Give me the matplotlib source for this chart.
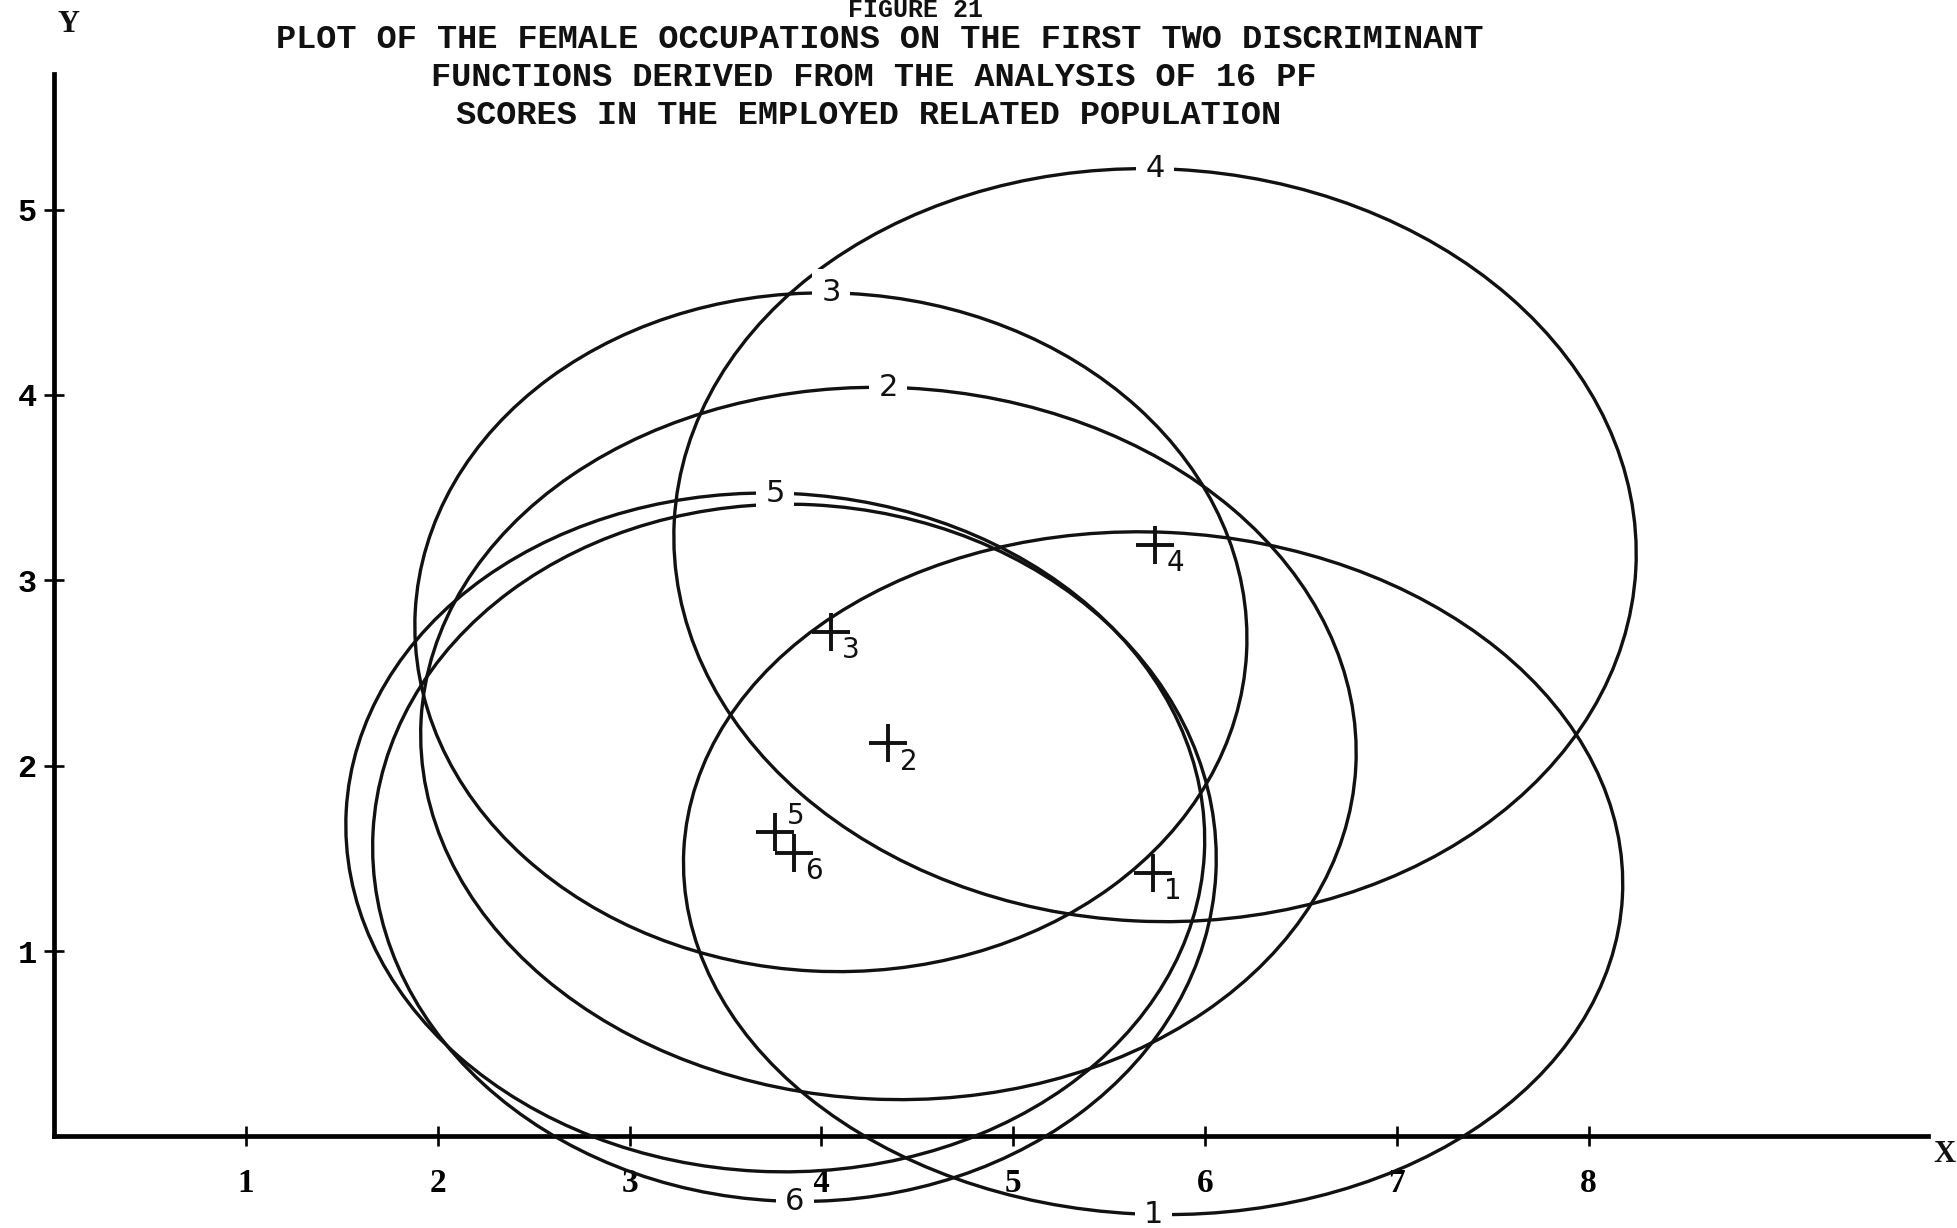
import matplotlib
matplotlib.use("Agg")
import matplotlib.pyplot as plt
from matplotlib.patches import Ellipse
import numpy as np

# Occupation groups: centroid on the two discriminant functions and
# the semi-axes of each group's dispersion ellipse.
groups = ["1", "2", "3", "4", "5", "6"]
centre_x = [5.73, 4.35, 4.05, 5.74, 3.76, 3.86]
centre_y = [1.42, 2.12, 2.72, 3.19, 1.64, 1.53]
semi_x = [2.45, 2.44, 2.17, 2.51, 2.24, 2.20]
semi_y = [1.84, 1.92, 1.83, 2.03, 1.83, 1.88]
tilt_deg = [-3, -3, -3, -3, -3, -3]
# where each ellipse carries its number: top or bottom of the curve
label_side = ["bottom", "top", "top", "top", "top", "bottom"]

x_ticks = [1, 2, 3, 4, 5, 6, 7, 8]
y_ticks = [1, 2, 3, 4, 5]

title_lines = [
    "FIGURE 21",
    "PLOT OF THE FEMALE OCCUPATIONS ON THE FIRST TWO DISCRIMINANT",
    "FUNCTIONS DERIVED FROM THE ANALYSIS OF 16 PF",
    "SCORES IN THE EMPLOYED RELATED POPULATION",
]

W, H = 1957, 1228
DPI = 100
fig = plt.figure(figsize=(W / DPI, H / DPI), dpi=DPI)
ax = fig.add_axes([0, 0, 1, 1])

# pixel geometry of the plotting frame
ox, oy = 54.1, 1136.4          # origin in pixels (from top-left)
px_x, px_y = 191.8, 185.35     # pixels per unit
ax.set_xlim(-ox / px_x, (W - ox) / px_x)
ax.set_ylim(-(H - oy) / px_y, oy / px_y)

for side in ("top", "right"):
    ax.spines[side].set_visible(False)
ax.spines["left"].set_position(("data", 0))
ax.spines["bottom"].set_position(("data", 0))
ax.spines["left"].set_bounds(0, 5.73)
ax.spines["bottom"].set_bounds(0, 9.77)
for side in ("left", "bottom"):
    ax.spines[side].set_linewidth(3.4)
    ax.spines[side].set_zorder(1)

ax.set_xticks(x_ticks)
ax.set_yticks(y_ticks)
ax.set_xticklabels([str(t) for t in x_ticks], fontfamily="Liberation Serif",
                   fontweight="bold", fontsize=24)
ax.set_yticklabels([str(t) for t in y_ticks], fontfamily="Liberation Mono",
                   fontweight="bold", fontsize=23)
ax.tick_params(axis="x", direction="inout", length=15, width=1.9, pad=15)
ax.tick_params(axis="y", direction="inout", length=15, width=1.9, pad=5)
ax.patch.set_visible(False)

ink = "#111111"


def point_on_curve(i, side):
    """Point of ellipse i straight above/below its centre."""
    t = np.linspace(0, 2 * np.pi, 3601)
    a, b, th = semi_x[i], semi_y[i], np.radians(tilt_deg[i])
    xs = centre_x[i] + a * np.cos(t) * np.cos(th) - b * np.sin(t) * np.sin(th)
    ys = centre_y[i] + a * np.cos(t) * np.sin(th) + b * np.sin(t) * np.cos(th)
    keep = ys > centre_y[i] if side == "top" else ys < centre_y[i]
    xs, ys = xs[keep], ys[keep]
    k = np.argmin(np.abs(xs - centre_x[i]))
    return xs[k], ys[k]


for i, g in enumerate(groups):
    e = Ellipse((centre_x[i], centre_y[i]), 2 * semi_x[i], 2 * semi_y[i],
                angle=tilt_deg[i], fill=False, edgecolor=ink, linewidth=2.4,
                zorder=3)
    ax.add_patch(e)

    # number on the curve, breaking the line
    lx, ly = point_on_curve(i, label_side[i])
    ax.text(lx, ly, g, ha="center", va="center", fontsize=22,
            fontfamily="DejaVu Sans", color=ink, zorder=5,
            bbox=dict(boxstyle="square,pad=0.3", fc="white", ec="none"))

    # centroid cross with its small number
    ax.plot(centre_x[i], centre_y[i], marker="+", markersize=28,
            markeredgewidth=2.8, color=ink, zorder=6, linestyle="none")
    dy = 12 if g == "5" else -13
    ax.annotate(g, (centre_x[i], centre_y[i]), xytext=(8, dy),
                textcoords="offset points", ha="left", va="center",
                fontsize=20, fontfamily="DejaVu Sans", color=ink, zorder=6)

# title block
title_pos = [(915, 10), (880, 40), (874, 78), (869, 116)]
title_size = [18, 24.2, 24.2, 24.2]
for (tx, ty), fs, line in zip(title_pos, title_size, title_lines):
    fig.text(tx / W, 1 - ty / H, line, ha="center", va="center",
             fontfamily="Liberation Mono", fontweight="bold", fontsize=fs,
             color=ink)

# axis letters
fig.text(69 / W, 1 - 25 / H, "Y", ha="center", va="center",
         fontfamily="Liberation Serif", fontweight="bold", fontsize=22,
         color=ink)
fig.text(1944 / W, 1 - 1155 / H, "X", ha="center", va="center",
         fontfamily="Liberation Serif", fontweight="bold", fontsize=22,
         color=ink)

fig.savefig("out.png", dpi=DPI, facecolor="white")
